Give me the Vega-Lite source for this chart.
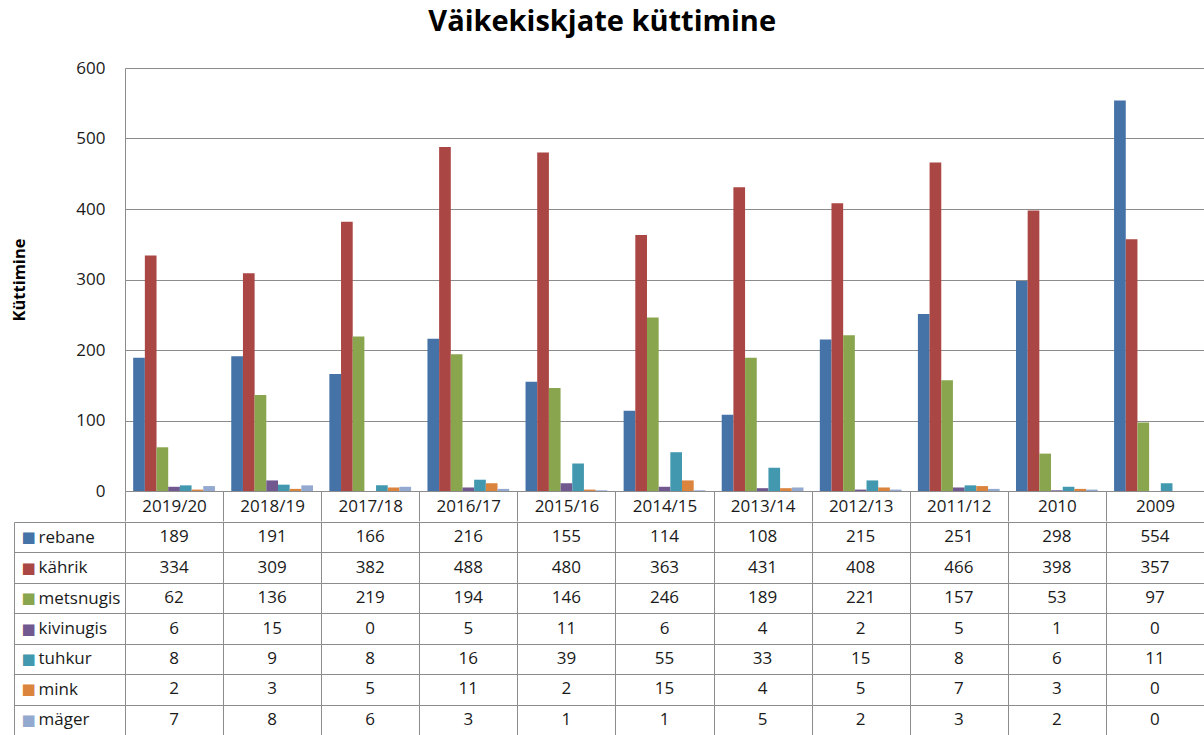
{
  "$schema": "https://vega.github.io/schema/vega-lite/v6.json",
  "padding": {"left": 11, "top": 8, "right": 0, "bottom": 0},
  "title": {"text": "Väikekiskjate küttimine", "fontSize": 29, "fontWeight": "bold", "font": "Open Sans", "anchor": "middle", "color": "#000000", "offset": 22, "dx": -6},
  "datasets": {
    "d": [
      {"aasta": "2019/20", "liik": "rebane", "arv": 189},
      {"aasta": "2018/19", "liik": "rebane", "arv": 191},
      {"aasta": "2017/18", "liik": "rebane", "arv": 166},
      {"aasta": "2016/17", "liik": "rebane", "arv": 216},
      {"aasta": "2015/16", "liik": "rebane", "arv": 155},
      {"aasta": "2014/15", "liik": "rebane", "arv": 114},
      {"aasta": "2013/14", "liik": "rebane", "arv": 108},
      {"aasta": "2012/13", "liik": "rebane", "arv": 215},
      {"aasta": "2011/12", "liik": "rebane", "arv": 251},
      {"aasta": "2010", "liik": "rebane", "arv": 298},
      {"aasta": "2009", "liik": "rebane", "arv": 554},
      {"aasta": "2019/20", "liik": "kährik", "arv": 334},
      {"aasta": "2018/19", "liik": "kährik", "arv": 309},
      {"aasta": "2017/18", "liik": "kährik", "arv": 382},
      {"aasta": "2016/17", "liik": "kährik", "arv": 488},
      {"aasta": "2015/16", "liik": "kährik", "arv": 480},
      {"aasta": "2014/15", "liik": "kährik", "arv": 363},
      {"aasta": "2013/14", "liik": "kährik", "arv": 431},
      {"aasta": "2012/13", "liik": "kährik", "arv": 408},
      {"aasta": "2011/12", "liik": "kährik", "arv": 466},
      {"aasta": "2010", "liik": "kährik", "arv": 398},
      {"aasta": "2009", "liik": "kährik", "arv": 357},
      {"aasta": "2019/20", "liik": "metsnugis", "arv": 62},
      {"aasta": "2018/19", "liik": "metsnugis", "arv": 136},
      {"aasta": "2017/18", "liik": "metsnugis", "arv": 219},
      {"aasta": "2016/17", "liik": "metsnugis", "arv": 194},
      {"aasta": "2015/16", "liik": "metsnugis", "arv": 146},
      {"aasta": "2014/15", "liik": "metsnugis", "arv": 246},
      {"aasta": "2013/14", "liik": "metsnugis", "arv": 189},
      {"aasta": "2012/13", "liik": "metsnugis", "arv": 221},
      {"aasta": "2011/12", "liik": "metsnugis", "arv": 157},
      {"aasta": "2010", "liik": "metsnugis", "arv": 53},
      {"aasta": "2009", "liik": "metsnugis", "arv": 97},
      {"aasta": "2019/20", "liik": "kivinugis", "arv": 6},
      {"aasta": "2018/19", "liik": "kivinugis", "arv": 15},
      {"aasta": "2017/18", "liik": "kivinugis", "arv": 0},
      {"aasta": "2016/17", "liik": "kivinugis", "arv": 5},
      {"aasta": "2015/16", "liik": "kivinugis", "arv": 11},
      {"aasta": "2014/15", "liik": "kivinugis", "arv": 6},
      {"aasta": "2013/14", "liik": "kivinugis", "arv": 4},
      {"aasta": "2012/13", "liik": "kivinugis", "arv": 2},
      {"aasta": "2011/12", "liik": "kivinugis", "arv": 5},
      {"aasta": "2010", "liik": "kivinugis", "arv": 1},
      {"aasta": "2009", "liik": "kivinugis", "arv": 0},
      {"aasta": "2019/20", "liik": "tuhkur", "arv": 8},
      {"aasta": "2018/19", "liik": "tuhkur", "arv": 9},
      {"aasta": "2017/18", "liik": "tuhkur", "arv": 8},
      {"aasta": "2016/17", "liik": "tuhkur", "arv": 16},
      {"aasta": "2015/16", "liik": "tuhkur", "arv": 39},
      {"aasta": "2014/15", "liik": "tuhkur", "arv": 55},
      {"aasta": "2013/14", "liik": "tuhkur", "arv": 33},
      {"aasta": "2012/13", "liik": "tuhkur", "arv": 15},
      {"aasta": "2011/12", "liik": "tuhkur", "arv": 8},
      {"aasta": "2010", "liik": "tuhkur", "arv": 6},
      {"aasta": "2009", "liik": "tuhkur", "arv": 11},
      {"aasta": "2019/20", "liik": "mink", "arv": 2},
      {"aasta": "2018/19", "liik": "mink", "arv": 3},
      {"aasta": "2017/18", "liik": "mink", "arv": 5},
      {"aasta": "2016/17", "liik": "mink", "arv": 11},
      {"aasta": "2015/16", "liik": "mink", "arv": 2},
      {"aasta": "2014/15", "liik": "mink", "arv": 15},
      {"aasta": "2013/14", "liik": "mink", "arv": 4},
      {"aasta": "2012/13", "liik": "mink", "arv": 5},
      {"aasta": "2011/12", "liik": "mink", "arv": 7},
      {"aasta": "2010", "liik": "mink", "arv": 3},
      {"aasta": "2009", "liik": "mink", "arv": 0},
      {"aasta": "2019/20", "liik": "mäger", "arv": 7},
      {"aasta": "2018/19", "liik": "mäger", "arv": 8},
      {"aasta": "2017/18", "liik": "mäger", "arv": 6},
      {"aasta": "2016/17", "liik": "mäger", "arv": 3},
      {"aasta": "2015/16", "liik": "mäger", "arv": 1},
      {"aasta": "2014/15", "liik": "mäger", "arv": 1},
      {"aasta": "2013/14", "liik": "mäger", "arv": 5},
      {"aasta": "2012/13", "liik": "mäger", "arv": 2},
      {"aasta": "2011/12", "liik": "mäger", "arv": 3},
      {"aasta": "2010", "liik": "mäger", "arv": 2},
      {"aasta": "2009", "liik": "mäger", "arv": 0}
    ]
  },
  "data": {"name": "d"},
  "spacing": -10,
  "vconcat": [
    {
      "width": 1079,
      "height": 423,
      "mark": {"type": "bar"},
      "encoding": {
        "x": {
          "field": "aasta", "type": "nominal",
          "sort": ["2019/20", "2018/19", "2017/18", "2016/17", "2015/16", "2014/15", "2013/14", "2012/13", "2011/12", "2010", "2009"],
          "scale": {"paddingInner": 0, "paddingOuter": 0},
          "axis": {"title": null, "labelAngle": 0, "labelFontSize": 17, "labelColor": "#1a1a1a", "tickBand": "extent", "tickSize": 30, "tickColor": "#8c8c8c", "domainColor": "#8c8c8c", "labelPadding": -15, "labelBaseline": "middle", "minExtent": 30, "maxExtent": 30}
        },
        "xOffset": {
          "field": "liik", "type": "nominal",
          "sort": ["rebane", "kährik", "metsnugis", "kivinugis", "tuhkur", "mink", "mäger"],
          "scale": {"paddingInner": 0, "paddingOuter": 0.7}
        },
        "y": {
          "field": "arv", "type": "quantitative",
          "scale": {"domain": [0, 600], "nice": false},
          "axis": {"values": [0, 100, 200, 300, 400, 500, 600], "title": "Küttimine", "titleFontSize": 16.5, "titleFontWeight": "bold", "titleColor": "#000000", "titlePadding": 48, "labelFontSize": 17, "labelColor": "#1a1a1a", "labelPadding": 20, "ticks": false, "domainColor": "#8c8c8c", "grid": true, "gridColor": "#8c8c8c"}
        },
        "color": {
          "field": "liik", "type": "nominal",
          "scale": {"domain": ["rebane", "kährik", "metsnugis", "kivinugis", "tuhkur", "mink", "mäger"], "range": ["#4572A7", "#AA4643", "#89A54E", "#71588F", "#4198AF", "#DB843D", "#93A9CF"]},
          "legend": null
        }
      }
    },
    {
      "width": 1079,
      "height": 213,
      "view": {"stroke": "#8c8c8c"},
      "layer": [
        {
          "mark": {"type": "text", "fontSize": 17, "color": "#1a1a1a", "baseline": "middle"},
          "encoding": {
            "x": {
              "field": "aasta", "type": "nominal",
              "sort": ["2019/20", "2018/19", "2017/18", "2016/17", "2015/16", "2014/15", "2013/14", "2012/13", "2011/12", "2010", "2009"],
              "scale": {"paddingInner": 0, "paddingOuter": 0},
              "axis": {"title": null, "orient": "bottom", "labels": false, "ticks": false, "domain": false, "grid": true, "gridColor": "#8c8c8c", "tickBand": "extent", "minExtent": 0, "maxExtent": 0, "labelPadding": 0}
            },
            "y": {
              "field": "liik", "type": "nominal",
              "sort": ["rebane", "kährik", "metsnugis", "kivinugis", "tuhkur", "mink", "mäger"],
              "scale": {"paddingInner": 0, "paddingOuter": 0},
              "axis": {"title": null, "orient": "left", "domain": false, "ticks": true, "tickSize": 111, "tickBand": "extent", "tickColor": "#8c8c8c", "grid": true, "gridColor": "#8c8c8c", "labelAlign": "left", "labelBaseline": "middle", "labelPadding": -24, "labelFontSize": 17, "labelColor": "#1a1a1a"}
            },
            "text": {"field": "arv", "type": "quantitative"}
          }
        },
        {
          "mark": {"type": "text", "opacity": 0},
          "encoding": {
            "y": {
              "field": "liik", "type": "nominal",
              "sort": ["rebane", "kährik", "metsnugis", "kivinugis", "tuhkur", "mink", "mäger"],
              "axis": {
                "title": null, "orient": "left", "offset": 111, "domain": true, "domainColor": "#8c8c8c", "ticks": false, "grid": false,
                "labelExpr": "'■'", "labelFont": "DejaVu Sans", "labelFontSize": 15, "labelAlign": "center", "labelBaseline": "middle", "labelPadding": -14,
                "labelColor": {
                  "condition": [
                    {"test": "datum.value === 'rebane'", "value": "#4572A7"},
                    {"test": "datum.value === 'kährik'", "value": "#AA4643"},
                    {"test": "datum.value === 'metsnugis'", "value": "#89A54E"},
                    {"test": "datum.value === 'kivinugis'", "value": "#71588F"},
                    {"test": "datum.value === 'tuhkur'", "value": "#4198AF"},
                    {"test": "datum.value === 'mink'", "value": "#DB843D"}
                  ],
                  "value": "#93A9CF"
                }
              }
            }
          }
        }
      ],
      "resolve": {"axis": {"y": "independent"}}
    }
  ],
  "config": {"font": "Open Sans", "view": {"stroke": null}}
}
